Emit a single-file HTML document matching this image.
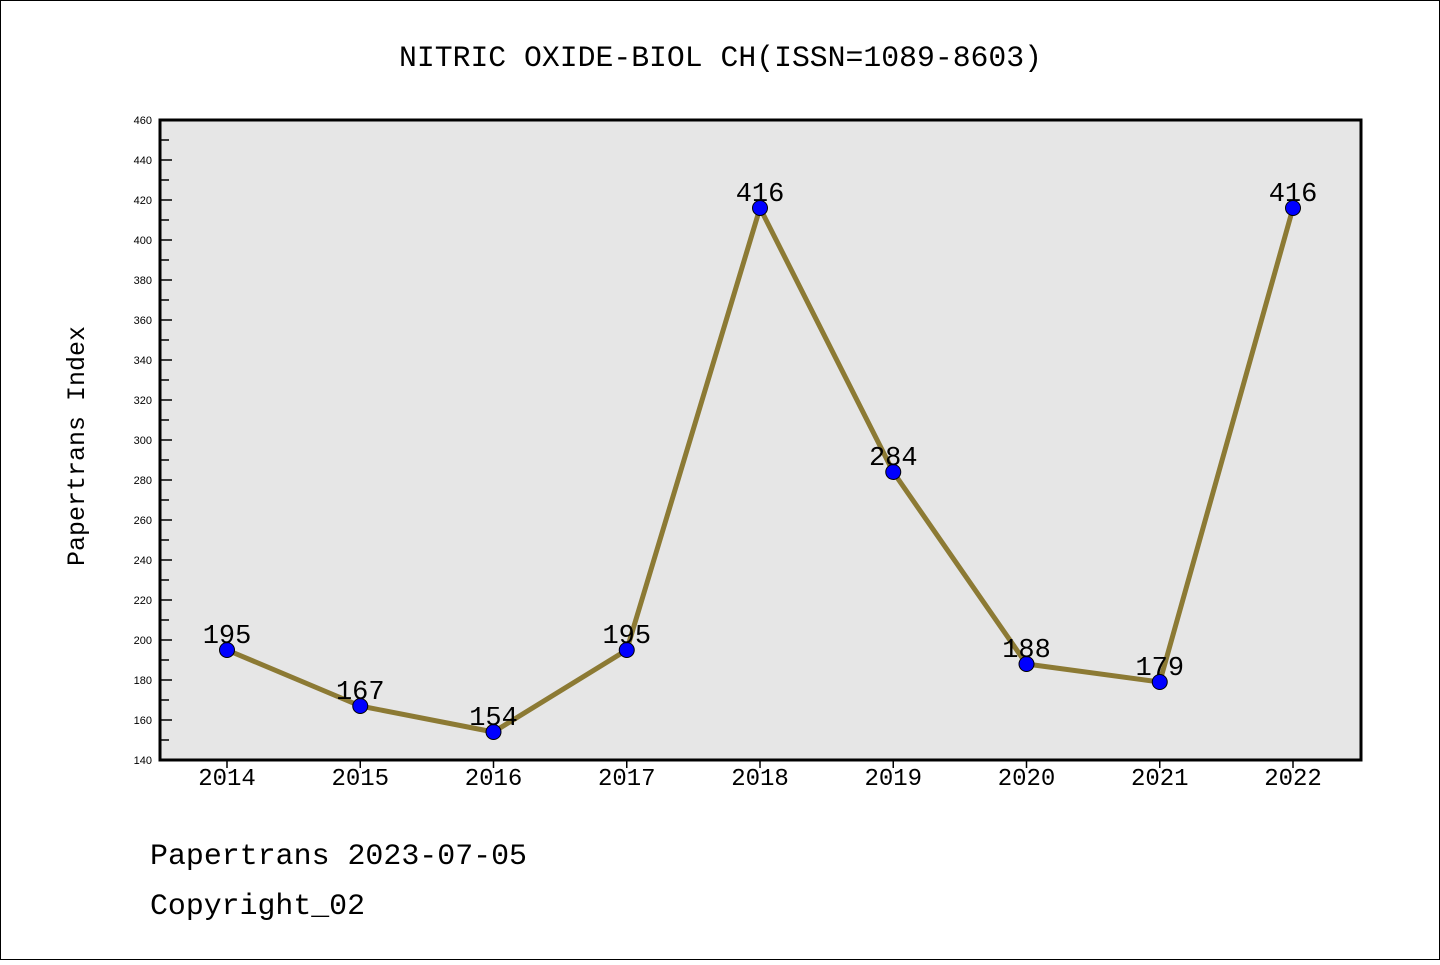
<!DOCTYPE html>
<html><head><meta charset="utf-8"><style>
body{margin:0;background:#fff}
svg text{font-family:"Liberation Mono","WenQuanYi Zen Hei Mono",monospace}
svg text.s{font-family:"Liberation Sans",sans-serif}
</style></head><body>
<svg width="1440" height="960">
<rect x="0.5" y="0.5" width="1439" height="959" fill="#fff" stroke="#000"/>
<text x="399" y="66" font-size="30" textLength="643" lengthAdjust="spacingAndGlyphs">NITRIC OXIDE-BIOL CH(ISSN=1089-8603)</text>
<rect x="160" y="120" width="1201" height="640" fill="#e6e6e6"/>
<g id="axes"></g>
<g id="marks"></g>
<rect x="160" y="120" width="1201" height="640" fill="none" stroke="#000" stroke-width="3"/>
<text transform="translate(84,446) rotate(-90)" font-size="25" text-anchor="middle" textLength="240" lengthAdjust="spacingAndGlyphs">Papertrans Index</text>
<text x="150" y="864" font-size="30" textLength="377" lengthAdjust="spacingAndGlyphs">Papertrans 2023-07-05</text>
<text x="150" y="914" font-size="30" textLength="215" lengthAdjust="spacingAndGlyphs">Copyright_02</text>
</svg>
<script>
const years=["2014","2015","2016","2017","2018","2019","2020","2021","2022"];
const values=[195,167,154,195,416,284,188,179,416];
const yTicks=[140,160,180,200,220,240,260,280,300,320,340,360,380,400,420,440,460];
const NS="http://www.w3.org/2000/svg";
const yMin=140,yMax=460,plotTop=120,plotBot=760;
const sy=v=>plotBot-(v-yMin)/(yMax-yMin)*(plotBot-plotTop);
const sx=i=>227+i*(1293-227)/(years.length-1);
function mk(t,a,p){const e=document.createElementNS(NS,t);for(const k in a)e.setAttribute(k,a[k]);p.appendChild(e);return e;}
const ax=document.getElementById('axes'),mg=document.getElementById('marks');
yTicks.forEach((v,i)=>{
 const l=mk('line',{x1:160,x2:172,y1:sy(v),y2:sy(v),stroke:'#000','stroke-width':1.5},ax);
 
 
 if(i<yTicks.length-1){const m=mk('line',{x1:160,x2:169,y1:sy(v+10),y2:sy(v+10),stroke:'#000','stroke-width':1.5},ax);
 
 }
 const t=mk('text',{x:152,y:sy(v)+4,'font-size':11,'text-anchor':'end','class':'s'},ax);t.textContent=v;
 
 
});
years.forEach((yr,i)=>{
 const l=mk('line',{x1:sx(i),x2:sx(i),y1:760,y2:768,stroke:'#000','stroke-width':1.5},ax);
 
 
 const t=mk('text',{x:sx(i),y:785,'font-size':24,'text-anchor':'middle'},ax);t.textContent=yr;
 
 
});
const pl=mk('polyline',{points:values.map((v,i)=>sx(i)+','+sy(v)).join(' '),fill:'none',stroke:'#8c7a34','stroke-width':5,'stroke-linejoin':'round'},mg);


values.forEach((v,i)=>{
 const c=mk('circle',{cx:sx(i),cy:sy(v),r:7.5,fill:'#0000ff',stroke:'#000','stroke-width':1},mg);
 
 
 const t=mk('text',{x:sx(i),y:sy(v)-7,'font-size':27,'text-anchor':'middle'},mg);t.textContent=v;
 
 
});
</script>
</body></html>
